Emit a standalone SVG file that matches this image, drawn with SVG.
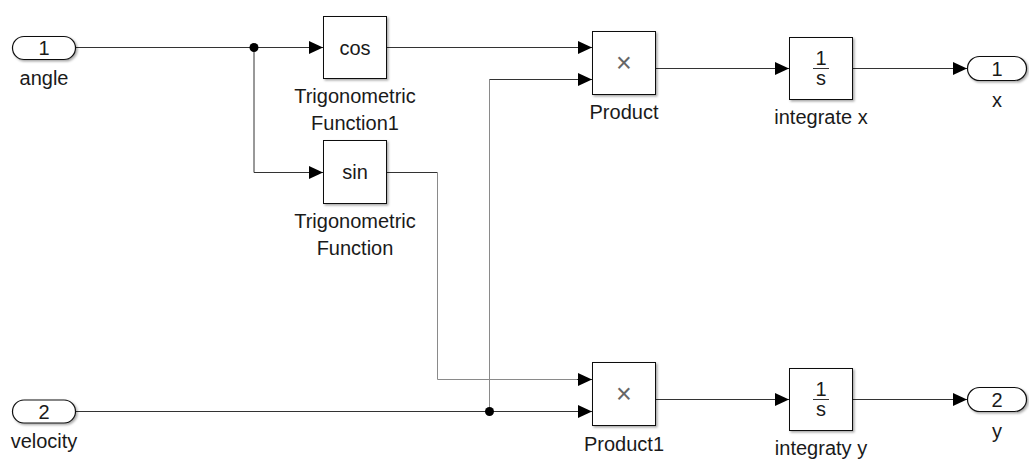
<svg xmlns="http://www.w3.org/2000/svg" width="1029" height="464" viewBox="0 0 1029 464">
  <style>
    .blk { fill: #ffffff; stroke: #111111; stroke-width: 1; filter: url(#sh); }
    .port { fill: #ffffff; stroke: #111111; stroke-width: 1.2; filter: url(#sh); }
    .ln { fill: none; stroke: #333333; stroke-width: 1; }
    .lg { fill: none; stroke: #8a8a8a; stroke-width: 1; }
    .ar { marker-end: url(#arr); }
    text { font-family: "Liberation Sans", Arial, sans-serif; font-size: 20px; fill: #1a1a1a; text-anchor: middle; }
    .mul { font-size: 27px; fill: #666666; }
  </style>
  <defs>
    <filter id="sh" x="-10%" y="-10%" width="130%" height="130%">
      <feDropShadow dx="1.5" dy="1.5" stdDeviation="0.8" flood-color="#000000" flood-opacity="0.35"/>
    </filter>
    <marker id="arr" markerUnits="userSpaceOnUse" markerWidth="15" markerHeight="14" refX="14" refY="6.5" orient="auto">
      <path d="M0,0 L14,6.5 L0,13 z" fill="#000000"/>
    </marker>
  </defs>

  <g id="connectors">
    <path class="ln ar" d="M75.5 47.5 H323"/>
    <path class="ln ar" d="M254 47.5 V172.5 H323"/>
    <circle cx="254" cy="47.5" r="4.5" fill="#000000"/>
    <path class="ln ar" d="M386.5 47.5 H592"/>
    <path class="ln" d="M386.5 172.5 H437.5"/>
    <path class="lg" d="M437.5 172.5 V379.5 H578"/>
    <path class="ln ar" d="M577 379.5 H592"/>
    <path class="ln ar" d="M75.5 411.5 H592"/>
    <path class="lg" d="M489.5 411.5 V79.5"/>
    <path class="ln ar" d="M489.5 79.5 H592"/>
    <circle cx="489.5" cy="411.5" r="4.5" fill="#000000"/>
    <path class="ln ar" d="M655.5 68.5 H789"/>
    <path class="ln ar" d="M852.5 68.5 H967"/>
    <path class="ln ar" d="M655.5 399.5 H789"/>
    <path class="ln ar" d="M852.5 399.5 H967"/>
  </g>

  <g id="in-angle">
    <rect class="port" x="12.5" y="36.5" width="63" height="23" rx="11.5"/>
    <text x="44" y="55">1</text>
    <text x="44" y="85">angle</text>
  </g>

  <g id="in-velocity">
    <rect class="port" x="12.5" y="400" width="63" height="23" rx="11.5"/>
    <text x="44" y="418.5">2</text>
    <text x="44" y="448">velocity</text>
  </g>

  <g id="trig-cos">
    <rect class="blk" x="323.5" y="16.5" width="63" height="62"/>
    <text x="355" y="54.5">cos</text>
    <text x="355" y="103">Trigonometric</text>
    <text x="355" y="130">Function1</text>
  </g>

  <g id="trig-sin">
    <rect class="blk" x="323.5" y="140.5" width="63" height="63"/>
    <text x="355" y="179">sin</text>
    <text x="355" y="228">Trigonometric</text>
    <text x="355" y="255">Function</text>
  </g>

  <g id="product">
    <rect class="blk" x="592.5" y="31.5" width="63" height="63"/>
    <text class="mul" x="624" y="72">×</text>
    <text x="624" y="119">Product</text>
  </g>

  <g id="product1">
    <rect class="blk" x="592.5" y="362.5" width="63" height="63"/>
    <text class="mul" x="624" y="403">×</text>
    <text x="624" y="451">Product1</text>
  </g>

  <g id="integrate-x">
    <rect class="blk" x="789.5" y="37.5" width="63" height="62"/>
    <text x="821" y="65">1</text>
    <line x1="813" y1="68.5" x2="829" y2="68.5" stroke="#333333" stroke-width="1"/>
    <text x="821" y="85">s</text>
    <text x="821" y="124">integrate x</text>
  </g>

  <g id="integraty-y">
    <rect class="blk" x="789.5" y="368.5" width="63" height="62"/>
    <text x="821" y="396">1</text>
    <line x1="813" y1="399.5" x2="829" y2="399.5" stroke="#333333" stroke-width="1"/>
    <text x="821" y="416">s</text>
    <text x="821" y="455">integraty y</text>
  </g>

  <g id="out-x">
    <rect class="port" x="967.5" y="56.5" width="59" height="24" rx="12"/>
    <text x="997" y="75.5">1</text>
    <text x="997" y="107">x</text>
  </g>

  <g id="out-y">
    <rect class="port" x="967.5" y="387.5" width="59" height="24" rx="12"/>
    <text x="997" y="406.5">2</text>
    <text x="997" y="438">y</text>
  </g>
</svg>
